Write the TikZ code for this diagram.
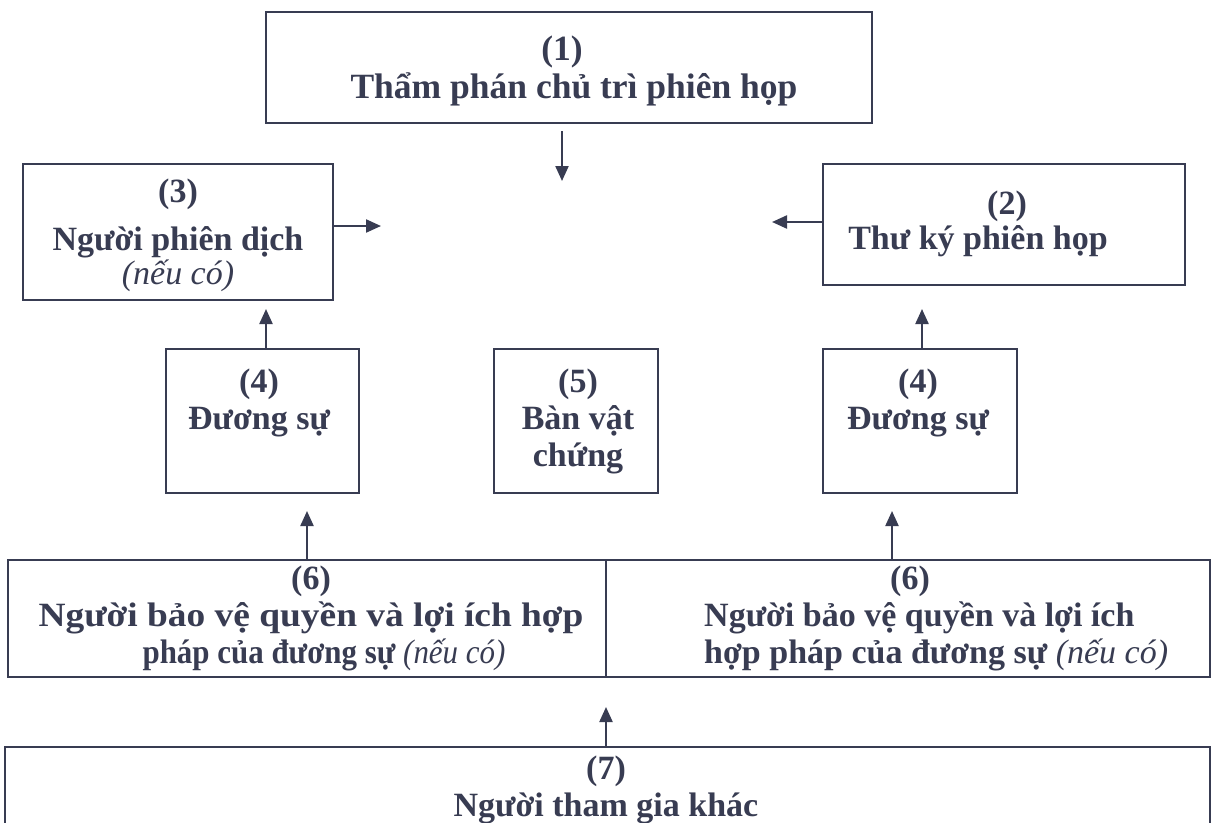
\documentclass[tikz,border=0pt]{standalone}
\usepackage{fontspec}
\setmainfont{Liberation Serif}
\usetikzlibrary{arrows.meta,calc}
\definecolor{ink}{RGB}{56,60,82}
\begin{document}
\lineskiplimit=-100pt
\begin{tikzpicture}[x=1pt,y=-1pt,
  box/.style={draw=ink,line width=2.3pt,inner sep=0pt,outer sep=0pt},
  txt/.style={text=ink,font=\fontsize{34}{37}\selectfont\bfseries,align=center,anchor=north,inner sep=0pt},
  arr/.style={draw=ink,line width=2.2pt,-{Triangle[length=15pt,width=13pt]}}]
\path[use as bounding box,fill=white] (0,0) rectangle (1215,822);
\clip (0,0) rectangle (1215,822);
% boxes
\node[box,minimum width=606pt,minimum height=111pt] (b1) at (569,67.5) {};
\node[box,minimum width=310pt,minimum height=136pt] (b3) at (178,232) {};
\node[box,minimum width=362pt,minimum height=121pt] (b2) at (1004,224.5) {};
\node[box,minimum width=193pt,minimum height=144pt] (b4l) at (262.5,421) {};
\node[box,minimum width=164pt,minimum height=144pt] (b5) at (576,421) {};
\node[box,minimum width=194pt,minimum height=144pt] (b4r) at (920,421) {};
\node[box,minimum width=598pt,minimum height=117pt] (b6l) at (307,618.5) {};
\node[box,minimum width=604pt,minimum height=117pt] (b6r) at (908,618.5) {};
\node[box,minimum width=1205pt,minimum height=123pt] (b7) at (607.5,808.5) {};
% texts
\node[txt,font=\fontsize{35.5}{38}\selectfont\bfseries] (t1) at (574,36) {\rule{0pt}{24pt}\hspace*{-24pt}(1)\\Thẩm phán chủ trì phiên họp};
\node[txt] (t3) at (178,178) {\rule{0pt}{24pt}(3)\\[11pt]Người phiên dịch\\[-3pt]{\mdseries\itshape (nếu có)}};
\node[txt] (t2) at (978,190) {\rule{0pt}{24pt}\hspace*{58pt}(2)\\[-2pt]Thư ký phiên họp};
\node[txt] (t4l) at (259,368) {\rule{0pt}{24pt}(4)\\Đương sự};
\node[txt] (t5) at (578,368) {\rule{0pt}{24pt}(5)\\Bàn vật\\chứng};
\node[txt] (t4r) at (918,368) {\rule{0pt}{24pt}(4)\\Đương sự};
\node[txt] (t6l) at (311,565) {\rule{0pt}{24pt}(6)\\\scalebox{1.1}[1]{Người bảo vệ quyền và lợi ích hợp}\\\hspace*{26pt}\scalebox{0.91}[1]{pháp của đương sự {\mdseries\itshape (nếu có)}}};
\node[txt,align=left,anchor=north west] (t6r) at (704,565) {\rule{0pt}{24pt}\hspace*{186pt}(6)\\Người bảo vệ quyền và lợi ích\\hợp pháp của đương sự {\mdseries\itshape (nếu có)}};
\node[txt] (t7) at (606,755) {\rule{0pt}{24pt}(7)\\Người tham gia khác};
% arrow tips (free ends)
\coordinate (cA1) at (562,181);
\coordinate (cA3) at (381,226);
\coordinate (cA2) at (772,222);
\coordinate (cA4l) at (266,309);
\coordinate (cA4r) at (922,309);
\coordinate (cA6l) at (307,511);
\coordinate (cA6r) at (892,511);
\coordinate (cA7) at (606,707);
% arrows
\draw[arr,shorten <=8pt] (b1.south -| cA1) -- (cA1);
\draw[arr] (b3.east |- cA3) -- (cA3);
\draw[arr] (b2.west |- cA2) -- (cA2);
\draw[arr] (b4l.north -| cA4l) -- (cA4l);
\draw[arr] (b4r.north -| cA4r) -- (cA4r);
\draw[arr] (b6l.north -| cA6l) -- (cA6l);
\draw[arr] (b6r.north -| cA6r) -- (cA6r);
\draw[arr] (b7.north -| cA7) -- (cA7);
\end{tikzpicture}
\end{document}
